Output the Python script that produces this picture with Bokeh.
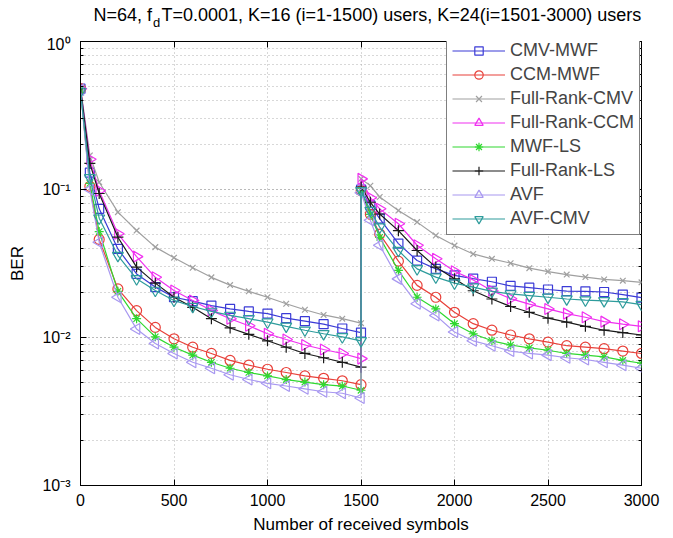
from bokeh.plotting import figure
from bokeh.models import (LinearAxis, LogAxis, FixedTicker, LogTicker,
                          CustomJSTickFormatter, Range1d, Legend)
from bokeh.core.properties import value
from bokeh.embed import file_html
from bokeh.resources import INLINE
import math

# ---------------- data ----------------
x_phase1 = [0, 50, 100, 200, 300, 400, 500, 600, 700, 800, 900, 1000, 1100, 1200, 1300, 1400, 1500]
x_phase2 = [1501, 1550, 1600, 1700, 1800, 1900, 2000, 2100, 2200, 2300, 2400, 2500, 2600, 2700, 2800, 2900, 3000]

cmv_mwf_1 = [0.48, 0.13, 0.074, 0.0397, 0.0269, 0.0219, 0.0187, 0.0176, 0.0164, 0.0156, 0.0150, 0.0145, 0.0135, 0.0129, 0.0123, 0.0115, 0.0108]
cmv_mwf_2 = [0.100, 0.078, 0.0636, 0.0431, 0.0331, 0.0291, 0.0263, 0.0250, 0.0238, 0.0223, 0.0217, 0.0211, 0.0206, 0.0205, 0.0203, 0.0195, 0.0186]

ccm_mwf_1 = [0.48, 0.105, 0.046, 0.0213, 0.0152, 0.0117, 0.0098, 0.0086, 0.0078, 0.0070, 0.0065, 0.0061, 0.0058, 0.0055, 0.0053, 0.0051, 0.0048]
ccm_mwf_2 = [0.098, 0.068, 0.050, 0.0328, 0.0225, 0.0187, 0.0148, 0.0124, 0.0112, 0.0104, 0.0098, 0.0093, 0.0088, 0.0086, 0.0084, 0.0081, 0.0078]

fr_cmv_1 = [0.49, 0.17, 0.112, 0.0703, 0.0528, 0.0408, 0.0346, 0.0296, 0.0255, 0.0226, 0.0205, 0.0187, 0.0169, 0.0154, 0.0142, 0.0134, 0.0125]
fr_cmv_2 = [0.118, 0.106, 0.089, 0.0721, 0.0602, 0.0489, 0.0418, 0.0367, 0.0340, 0.0318, 0.0294, 0.0279, 0.0266, 0.0256, 0.0247, 0.0242, 0.0236]

fr_ccm_1 = [0.48, 0.16, 0.098, 0.0502, 0.0352, 0.0255, 0.0208, 0.0178, 0.0152, 0.0134, 0.0120, 0.0106, 0.0097, 0.0089, 0.0083, 0.0078, 0.0072]
fr_ccm_2 = [0.118, 0.088, 0.074, 0.0587, 0.0420, 0.0340, 0.0280, 0.0245, 0.0207, 0.0183, 0.0168, 0.0156, 0.0145, 0.0137, 0.0128, 0.0123, 0.0119]

mwf_ls_1 = [0.47, 0.11, 0.052, 0.0205, 0.0134, 0.0101, 0.0086, 0.0076, 0.0068, 0.0062, 0.0058, 0.0055, 0.0052, 0.0050, 0.0048, 0.0047, 0.0044]
mwf_ls_2 = [0.098, 0.068, 0.0475, 0.0284, 0.0187, 0.0156, 0.0124, 0.0106, 0.0095, 0.0089, 0.0085, 0.0082, 0.0078, 0.0076, 0.0074, 0.0070, 0.0067]

fr_ls_1 = [0.48, 0.15, 0.094, 0.0476, 0.0299, 0.0233, 0.0187, 0.0160, 0.0134, 0.0116, 0.0105, 0.0095, 0.0086, 0.0078, 0.0073, 0.0068, 0.0063]
fr_ls_2 = [0.104, 0.082, 0.0683, 0.0527, 0.0387, 0.0299, 0.0249, 0.0207, 0.0182, 0.0162, 0.0148, 0.0135, 0.0127, 0.0119, 0.0112, 0.0108, 0.0104]

avf_1 = [0.47, 0.10, 0.044, 0.0187, 0.0114, 0.0091, 0.0078, 0.0068, 0.0062, 0.0056, 0.0052, 0.0049, 0.0047, 0.0045, 0.0043, 0.0042, 0.0039]
avf_2 = [0.095, 0.062, 0.042, 0.0249, 0.0169, 0.0141, 0.0109, 0.0095, 0.0088, 0.0081, 0.0078, 0.0076, 0.0073, 0.0071, 0.0068, 0.0065, 0.0062]

avf_cmv_1 = [0.46, 0.12, 0.064, 0.0358, 0.0249, 0.0208, 0.0178, 0.0162, 0.0150, 0.0141, 0.0134, 0.0127, 0.0119, 0.0112, 0.0106, 0.0101, 0.0095]
avf_cmv_2 = [0.098, 0.072, 0.0557, 0.0387, 0.0291, 0.0256, 0.0233, 0.0219, 0.0205, 0.0197, 0.0192, 0.0187, 0.0182, 0.0179, 0.0177, 0.0174, 0.0167]

series_names = ["CMV-MWF", "CCM-MWF", "Full-Rank-CMV", "Full-Rank-CCM",
                "MWF-LS", "Full-Rank-LS", "AVF", "AVF-CMV"]
x_ticks = [0, 500, 1000, 1500, 2000, 2500, 3000]
y_tick_labels = {"0.001": "10\u207b\u00b3", "0.01": "10\u207b\u00b2", "0.1": "10\u207b\u00b9", "1": "10\u2070"}

title_left = "N=64, f"
title_sub = "d"
title_right = "T=0.0001, K=16 (i=1-1500) users, K=24(i=1501-3000) users"
x_label = "Number of received symbols"
y_label = "BER"

# ---------------- styles ----------------
styles = [
    dict(color="#3b3bd6", marker="square", angle=0.0, size=9),
    dict(color="#e8413a", marker="circle", angle=0.0, size=10),
    dict(color="#a0a0a0", marker="x", angle=0.0, size=8),
    dict(color="#f030f0", marker="triangle", angle=-math.pi / 2, size=11),
    dict(color="#30d830", marker="asterisk", angle=0.0, size=9),
    dict(color="#1a1a1a", marker="cross", angle=0.0, size=11),
    dict(color="#a898f0", marker="triangle", angle=math.pi / 2, size=11),
    dict(color="#2e9c9c", marker="inverted_triangle", angle=0.0, size=11),
]

data_sets = [
    (cmv_mwf_1, cmv_mwf_2), (ccm_mwf_1, ccm_mwf_2), (fr_cmv_1, fr_cmv_2), (fr_ccm_1, fr_ccm_2),
    (mwf_ls_1, mwf_ls_2), (fr_ls_1, fr_ls_2), (avf_1, avf_2), (avf_cmv_1, avf_cmv_2),
]

FONT = "Liberation Sans"
W = 665
TH = 35

# ---------------- title strip (separate root, so its frame spans the full width) ----------------
pt = figure(width=W, height=TH, output_backend="svg", toolbar_location=None,
            x_range=Range1d(0, W), y_range=Range1d(TH, 0),
            x_axis_location=None, y_axis_location=None,
            min_border_left=0, min_border_right=0, min_border_top=0, min_border_bottom=0)
pt.outline_line_color = None
pt.grid.visible = False
pt.text(x=[151.5], y=[14], text=[title_left], text_align="right", text_baseline="middle",
        text_font=value(FONT), text_font_size="18px", text_color="black")
pt.text(x=[152.5], y=[22], text=[title_sub], text_align="left", text_baseline="middle",
        text_font=value(FONT), text_font_size="13px", text_color="black")
pt.text(x=[161], y=[14], text=[title_right], text_align="left", text_baseline="middle",
        text_font=value(FONT), text_font_size="18px", text_color="black")

# ---------------- main plot ----------------
p = figure(width=W, height=538 - TH, output_backend="svg", toolbar_location=None,
           y_axis_type="log", x_range=Range1d(0, 3000), y_range=Range1d(0.001, 1),
           min_border_left=80, min_border_right=24, min_border_top=41 - TH, min_border_bottom=53)
p.background_fill_color = "white"
p.border_fill_color = "white"
p.outline_line_color = "black"
p.outline_line_width = 1

xs = x_phase1 + x_phase2
items = []
for name, st, (a, b) in zip(series_names, styles, data_sets):
    ys = a + b
    r1 = p.line(xs, ys, line_color=st["color"], line_width=1.2)
    r2 = p.scatter(xs, ys, marker=st["marker"], angle=st["angle"], size=st["size"],
                   line_color=st["color"], fill_color=None, line_width=1.2)
    items.append((name, [r1, r2]))

legend = Legend(items=items, location=(366, 250))
legend.label_text_font = FONT
legend.label_text_font_size = "18px"
legend.glyph_width = 53
legend.glyph_height = 21
legend.label_height = 21
legend.spacing = 3
legend.padding = 5
legend.margin = 0
legend.label_standoff = 5
legend.border_line_color = "black"
legend.border_line_width = 1
legend.background_fill_alpha = 1.0
p.add_layout(legend, "center")

# axes
p.xaxis.ticker = FixedTicker(ticks=x_ticks)
p.yaxis.ticker = LogTicker(num_minor_ticks=10)
p.yaxis.formatter = CustomJSTickFormatter(args=dict(lab=y_tick_labels),
                                          code="const k = String(tick); return (k in lab) ? lab[k] : '';")
for ax in (p.xaxis[0], p.yaxis[0]):
    ax.major_tick_in = 6
    ax.major_tick_out = 0
    ax.minor_tick_in = 3
    ax.minor_tick_out = 0
    ax.axis_line_color = "black"
    ax.major_label_text_font = FONT
    ax.major_label_text_font_size = "16px"
    ax.major_label_text_color = "black"
    ax.axis_label_text_font = FONT
    ax.axis_label_text_font_size = "17px"
    ax.axis_label_text_font_style = "normal"
    ax.axis_label_text_color = "black"
p.xaxis.minor_tick_line_color = None
p.xaxis.major_label_standoff = 8
p.xaxis.axis_label = x_label
p.xaxis.axis_label_standoff = 6
p.yaxis.axis_label = y_label
p.yaxis.major_label_standoff = 10
p.yaxis.axis_label_standoff = 12

top_ax = LinearAxis(ticker=FixedTicker(ticks=x_ticks), formatter=CustomJSTickFormatter(code="return ' ';"),
                    major_label_text_font_size="3px", major_label_text_color=None,
                    major_tick_in=6, major_tick_out=0, minor_tick_line_color=None,
                    axis_line_color=None, major_label_standoff=0)
right_ax = LogAxis(ticker=LogTicker(num_minor_ticks=10), formatter=CustomJSTickFormatter(code="return ' ';"),
                   major_label_text_font_size="3px", major_label_text_color=None,
                   major_tick_in=6, major_tick_out=0, minor_tick_in=3, minor_tick_out=0,
                   axis_line_color=None, major_label_standoff=0)
p.add_layout(top_ax, "above")
p.add_layout(right_ax, "right")

# grids
p.xgrid.ticker = FixedTicker(ticks=x_ticks)
p.xgrid.grid_line_color = "#b0b0b0"
p.xgrid.grid_line_dash = "1 3"
p.ygrid.grid_line_color = "#b0b0b0"
p.ygrid.grid_line_dash = "1 3"
p.ygrid.minor_grid_line_color = "#b0b0b0"
p.ygrid.minor_grid_line_dash = "1 3"

open("out.html", "w").write(file_html([pt, p], INLINE))
